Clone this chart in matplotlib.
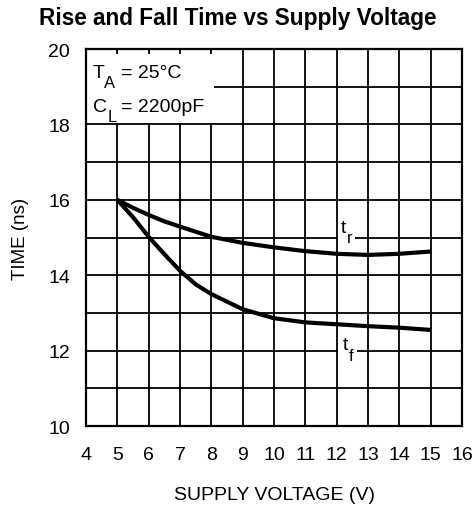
import matplotlib
matplotlib.use("Agg")
import matplotlib.pyplot as plt
from matplotlib.patches import Rectangle

# Data
v_r = [5, 5.5, 6, 6.5, 7, 8, 9, 10, 11, 12, 13, 14, 15]
t_r = [16.0, 15.79, 15.6, 15.43, 15.29, 15.02, 14.86, 14.74, 14.64, 14.57, 14.54, 14.57, 14.63]
v_f = [5, 5.5, 6, 6.5, 7, 7.5, 8, 9, 10, 11, 12, 13, 14, 15]
t_f = [16.0, 15.54, 15.02, 14.56, 14.12, 13.76, 13.5, 13.1, 12.86, 12.75, 12.7, 12.65, 12.61, 12.55]
x_ticks = list(range(4, 17))
y_ticks = [10, 12, 14, 16, 18, 20]

plt.rcParams['font.family'] = ['Liberation Sans', 'DejaVu Sans']

fig = plt.figure(figsize=(4.76, 5.06), dpi=100)
ax = fig.add_axes([0.1807, 0.156, 0.7899, 0.745])
ax.set_xlim(4, 16)
ax.set_ylim(10, 20)

# grid
for x in range(5, 16):
    ax.axvline(x, color='black', lw=1.3, zorder=1)
for y in range(11, 20):
    ax.axhline(y, color='black', lw=1.3, zorder=1)

ax.add_patch(Rectangle((4, 18.04), 4.08, 1.82, facecolor='white', edgecolor='none', zorder=2))

fs = 14
# T_A = 25°C
ax.text(4.22, 19.26, 'T', fontsize=fs, va='baseline', ha='left', zorder=3)
ax.text(4.58, 18.99, 'A', fontsize=fs * 0.85, va='baseline', ha='left', zorder=3)
ax.text(5.12, 19.26, '= 25°C', fontsize=fs, va='baseline', ha='left', zorder=3)
# C_L = 2200pF
ax.text(4.22, 18.36, 'C', fontsize=fs, va='baseline', ha='left', zorder=3)
ax.text(4.69, 18.09, 'L', fontsize=fs * 0.85, va='baseline', ha='left', zorder=3)
ax.text(5.12, 18.36, '= 2200pF', fontsize=fs, va='baseline', ha='left', zorder=3)

ax.plot(v_r, t_r, color='black', lw=3.0, zorder=4, solid_capstyle='butt')
ax.plot(v_f, t_f, color='black', lw=3.0, zorder=4, solid_capstyle='butt')

# curve labels with white backgrounds breaking the grid lines
ax.add_patch(Rectangle((12.05, 14.85), 0.55, 0.3, facecolor='white', edgecolor='none', zorder=2))
ax.text(12.14, 15.15, 't', fontsize=fs, va='baseline', ha='left', zorder=5)
ax.text(12.32, 14.89, 'r', fontsize=fs * 0.85, va='baseline', ha='left', zorder=5)
ax.add_patch(Rectangle((12.05, 11.85), 0.6, 0.3, facecolor='white', edgecolor='none', zorder=2))
ax.text(12.18, 12.05, 't', fontsize=fs, va='baseline', ha='left', zorder=5)
ax.text(12.38, 11.76, 'f', fontsize=fs * 0.85, va='baseline', ha='left', zorder=5)

ax.set_xticks(x_ticks)
ax.set_yticks(y_ticks)
ax.tick_params(length=0, labelsize=14)
ax.tick_params(axis='x', pad=14)
ax.tick_params(axis='y', pad=11.5)
for s in ax.spines.values():
    s.set_linewidth(1.6)

ax.set_xlabel('SUPPLY VOLTAGE (V)', fontsize=14, labelpad=17)
ax.set_ylabel('TIME (ns)', fontsize=13.5, labelpad=14)
fig.suptitle('Rise and Fall Time vs Supply Voltage', fontsize=16.3, fontweight='bold',
             x=0.5, y=1 - 18 / 506, va='center')

fig.savefig('out.png', dpi=100)
